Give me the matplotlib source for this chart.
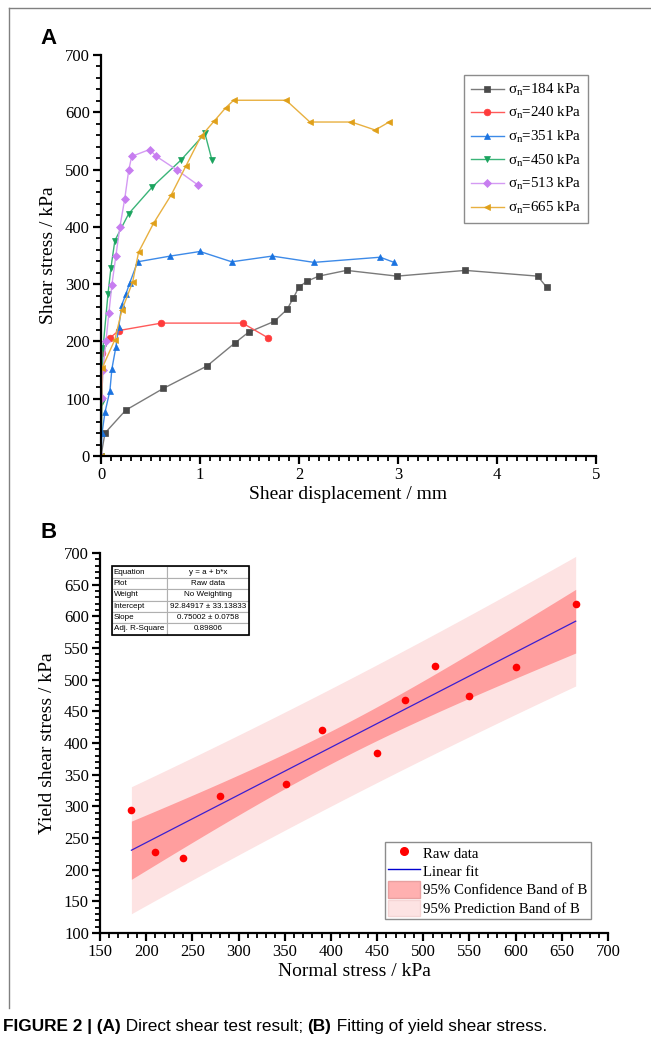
import numpy as np
import matplotlib
matplotlib.use('Agg')
import matplotlib.pyplot as plt
from matplotlib.ticker import MultipleLocator
from matplotlib.patches import Patch
from matplotlib.lines import Line2D

plt.rcParams['font.family'] = ['Liberation Serif', 'DejaVu Serif']
plt.rcParams['mathtext.fontset'] = 'custom'
plt.rcParams['mathtext.rm'] = 'Liberation Serif'

# (A) direct shear test curves
disp_184 = [0, 0.04, 0.25, 0.63, 1.07, 1.35, 1.49, 1.75, 1.88, 1.94, 2.0, 2.08, 2.2, 2.48, 2.99, 3.68, 4.41, 4.5]
tau_184 = [0, 40, 80, 118, 157, 197, 216, 235, 256, 275, 295, 305, 314, 324, 314, 324, 314, 295]
disp_240 = [0, 0.005, 0.01, 0.09, 0.18, 0.61, 1.43, 1.69]
tau_240 = [0, 150, 180, 206, 219, 232, 232, 206]
disp_351 = [0, 0.01, 0.04, 0.09, 0.11, 0.15, 0.18, 0.21, 0.25, 0.29, 0.37, 0.70, 1.0, 1.32, 1.73, 2.15, 2.82, 2.96]
tau_351 = [0, 40, 76, 114, 152, 190, 226, 264, 282, 302, 339, 349, 357, 339, 349, 338, 347, 338]
disp_450 = [0, 0.01, 0.02, 0.07, 0.10, 0.14, 0.28, 0.52, 0.81, 1.05, 1.12]
tau_450 = [0, 95, 188, 282, 328, 376, 423, 470, 517, 563, 517]
disp_513 = [0, 0.006, 0.02, 0.05, 0.08, 0.11, 0.15, 0.19, 0.24, 0.28, 0.31, 0.49, 0.56, 0.77, 0.98]
tau_513 = [0, 101, 150, 200, 250, 299, 349, 399, 449, 499, 523, 535, 523, 499, 473]
disp_665 = [0, 0.01, 0.14, 0.21, 0.32, 0.38, 0.53, 0.71, 0.86, 1.01, 1.14, 1.26, 1.34, 1.87, 2.11, 2.53, 2.77, 2.91]
tau_665 = [0, 153, 203, 254, 304, 356, 406, 456, 507, 558, 584, 608, 621, 621, 583, 583, 569, 583]

series_labels = ['184', '240', '351', '450', '513', '665']

# (B) yield shear stress vs normal stress
normal_stress = [184, 210, 240, 280, 351, 390, 450, 480, 513, 550, 600, 665]
yield_stress = [295, 228, 218, 316, 336, 420, 384, 468, 522, 475, 520, 620]

table_rows = [['Equation', 'y = a + b*x'],
              ['Plot', 'Raw data'],
              ['Weight', 'No Weighting'],
              ['Intercept', '92.84917 \u00b1 33.13833'],
              ['Slope', '0.75002 \u00b1 0.0758'],
              ['Adj. R-Square', '0.89806']]

fig = plt.figure(figsize=(6.51, 10.45), dpi=100)

# page frame lines
fig.add_artist(Line2D([9 / 651, 9 / 651], [1 - 8 / 1045, 1 - 1008 / 1045], color='#808080', lw=1))
fig.add_artist(Line2D([9 / 651, 1], [1 - 8 / 1045, 1 - 8 / 1045], color='#808080', lw=1))

ax1 = fig.add_axes([101 / 651, 1 - 456 / 1045, 495 / 651, 401 / 1045])

styles = [(disp_184, tau_184, '#4a4a4a', '#7a7a7a', 's'),
          (disp_240, tau_240, '#ff3b3b', '#ff5a5a', 'o'),
          (disp_351, tau_351, '#1a73e0', '#3d8ae8', '^'),
          (disp_450, tau_450, '#1aa35e', '#3ab478', 'v'),
          (disp_513, tau_513, '#c77df0', '#d49af3', 'D'),
          (disp_665, tau_665, '#e0a01a', '#e8b040', '<')]

for (xs, ys, mc, lc, mk), lab in zip(styles, series_labels):
    ms = 3.8 if mk == 'D' else 4.8
    ax1.plot(xs, ys, color=lc, lw=1, marker=mk, markersize=ms,
             markerfacecolor=mc, markeredgecolor=mc, markeredgewidth=0.5,
             label=r'$\mathregular{\sigma_n}$=' + lab + ' kPa')

ax1.set_xlim(0, 5)
ax1.set_ylim(0, 700)
ax1.xaxis.set_major_locator(MultipleLocator(1))
ax1.xaxis.set_minor_locator(MultipleLocator(0.1))
ax1.yaxis.set_major_locator(MultipleLocator(100))
ax1.yaxis.set_minor_locator(MultipleLocator(20))
ax1.set_xlabel('Shear displacement / mm', fontsize=14, labelpad=2)
ax1.set_ylabel('Shear stress / kPa', fontsize=14, labelpad=6)
ax1.legend(loc='upper right', bbox_to_anchor=(0.984, 0.95), fontsize=10.8, borderaxespad=0,
           frameon=True, fancybox=False, edgecolor='#707070', handlelength=2.2,
           handletextpad=0.3, borderpad=0.45, labelspacing=0.5)

ax2 = fig.add_axes([100 / 651, 1 - 933 / 1045, 508 / 651, 380 / 1045])

xa = np.array(normal_stress, dtype=float)
ya = np.array(yield_stress, dtype=float)
n = len(xa)
slope, intercept = np.polyfit(xa, ya, 1)
resid = ya - (intercept + slope * xa)
s = np.sqrt(np.sum(resid ** 2) / (n - 2))
t_crit = 2.228  # t(0.975, df=10)
xf = np.linspace(xa.min(), xa.max(), 200)
yf = intercept + slope * xf
sxx = np.sum((xa - xa.mean()) ** 2)
conf = t_crit * s * np.sqrt(1 / n + (xf - xa.mean()) ** 2 / sxx)
pred = t_crit * s * np.sqrt(1 + 1 / n + (xf - xa.mean()) ** 2 / sxx)

ax2.fill_between(xf, yf - pred, yf + pred, color='#fde3e3', lw=0)
ax2.fill_between(xf, yf - conf, yf + conf, color='#ff9e9e', lw=0)
ax2.plot(xf, yf, color='#3a1fd0', lw=0.9)
ax2.plot(xa, ya, 'o', color='#ff0000', markersize=5.5, markeredgewidth=0)

ax2.set_xlim(150, 700)
ax2.set_ylim(100, 700)
ax2.xaxis.set_major_locator(MultipleLocator(50))
ax2.xaxis.set_minor_locator(MultipleLocator(10))
ax2.yaxis.set_major_locator(MultipleLocator(50))
ax2.yaxis.set_minor_locator(MultipleLocator(10))
ax2.set_xlabel('Normal stress / kPa', fontsize=14, labelpad=2)
ax2.set_ylabel('Yield shear stress / kPa', fontsize=14, labelpad=6)

handles = [Line2D([], [], ls='none', marker='o', color='#ff0000', markersize=5.5),
           Line2D([], [], color='#0000d0', lw=1),
           Patch(facecolor='#ffb0b0', edgecolor='#e8a0a0'),
           Patch(facecolor='#fde3e3', edgecolor='#f5d5d5')]
ax2.legend(handles, ['Raw data', 'Linear fit', '95% Confidence Band of B', '95% Prediction Band of B'],
           loc='lower right', bbox_to_anchor=(0.966, 0.037), fontsize=10.7, frameon=True,
           fancybox=False, edgecolor='#707070', handlelength=2.2, handleheight=1.3,
           handletextpad=0.2, borderpad=0.2, labelspacing=0.15, borderaxespad=0)

tbl = ax2.table(cellText=table_rows, cellLoc='center', colWidths=[0.108, 0.162],
                bbox=[0.0236, 0.785, 0.27, 0.18])
tbl.auto_set_font_size(False)
for (r, c), cell in tbl.get_celld().items():
    cell.set_edgecolor('#b0b0b0')
    cell.set_linewidth(0.8)
    cell.get_text().set_fontsize(5.8)
    cell.get_text().set_fontfamily('Liberation Sans')
    if c == 0:
        cell.get_text().set_ha('left')
        cell.PAD = 0.03
ax2.add_patch(plt.Rectangle((0.0236, 0.785), 0.27, 0.18, transform=ax2.transAxes,
                            fill=False, edgecolor='black', lw=1.2, zorder=10))

for ax in (ax1, ax2):
    ax.spines['top'].set_visible(False)
    ax.spines['right'].set_visible(False)
    ax.spines['left'].set_linewidth(1.6)
    ax.spines['bottom'].set_linewidth(1.6)
    ax.tick_params(which='major', direction='out', length=6, width=1.6, labelsize=12, pad=2)
    ax.tick_params(which='minor', direction='out', length=3.5, width=1.3)

fig.text(40 / 651, 1 - 44 / 1045, 'A', fontsize=16, fontweight='bold', family='Liberation Sans')
fig.text(40 / 651, 1 - 538 / 1045, 'B', fontsize=16, fontweight='bold', family='Liberation Sans')

# caption, pieces chained one after another
cap_parts = [('FIGURE 2 | (A)', 'bold'), (' Direct shear test result; ', 'normal'),
             ('(B)', 'bold'), (' Fitting of yield shear stress.', 'normal')]
prev = fig.text(3 / 651, 1 - 1031 / 1045, cap_parts[0][0], fontsize=12.4,
                fontweight=cap_parts[0][1], family='Liberation Sans', va='baseline')
for txt, wt in cap_parts[1:]:
    prev = ax2.annotate(txt, xy=(1, 0), xycoords=prev, ha='left', va='bottom',
                        fontsize=12.4, fontweight=wt, family='Liberation Sans',
                        annotation_clip=False)

fig.savefig('out.png', dpi=100)
